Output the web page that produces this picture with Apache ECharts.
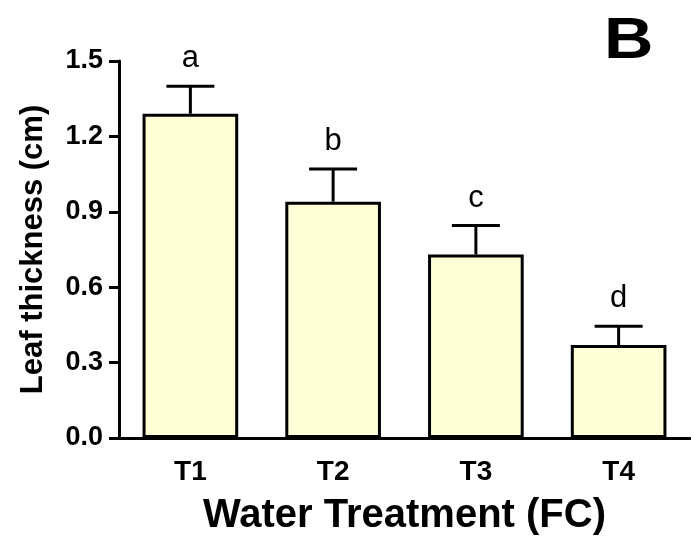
<!DOCTYPE html>
<html>
<head>
<meta charset="utf-8">
<script src="https://cdn.jsdelivr.net/npm/echarts@6/dist/echarts.min.js"></script>
<style>
html, body { margin: 0; padding: 0; background: #fff; }
#main { width: 691px; height: 545px; }
</style>
</head>
<body>
<div id="main"></div>
<script>
// data
var treatments = ['T1', 'T2', 'T3', 'T4'];
var thickness = [1.29, 0.94, 0.73, 0.37];
var errUpper = [0.11, 0.13, 0.115, 0.075];
var letters = ['a', 'b', 'c', 'd'];
var yTicks = [0, 0.3, 0.6, 0.9, 1.2, 1.5];

var chart = echarts.init(document.getElementById('main'));
var font = 'Liberation Sans, Arial, sans-serif';

var errData = thickness.map(function (v, i) {
    return [i, v, v + errUpper[i]];
});

var option = {
    backgroundColor: '#fff',
    animation: false,
    grid: { left: 119, right: 1, top: 61, bottom: 107 },
    graphic: [{
        type: 'text', left: 604, top: 14, scaleX: 1.2,
        style: { text: 'B', font: 'bold 57px ' + font, fill: '#000' }
    }],
    xAxis: {
        type: 'category',
        data: treatments,
        name: 'Water Treatment (FC)',
        nameLocation: 'middle',
        nameGap: 58,
        nameTextStyle: { fontFamily: font, fontWeight: 'bold', fontSize: 40, color: '#000' },
        axisLine: { lineStyle: { color: '#000', width: 3 } },
        axisTick: { alignWithLabel: true, length: 10, lineStyle: { color: '#000', width: 3 } },
        axisLabel: { fontFamily: font, fontWeight: 'bold', fontSize: 28, color: '#000', margin: 20 }
    },
    yAxis: {
        type: 'value',
        min: yTicks[0],
        max: yTicks[yTicks.length - 1],
        interval: 0.3,
        name: 'Leaf thickness (cm)',
        nameLocation: 'middle',
        nameGap: 70,
        nameTextStyle: { fontFamily: font, fontWeight: 'bold', fontSize: 31, color: '#000' },
        axisLine: { show: true, lineStyle: { color: '#000', width: 3 } },
        axisTick: { show: true, length: 10, lineStyle: { color: '#000', width: 3 } },
        splitLine: { show: false },
        axisLabel: {
            fontFamily: font, fontWeight: 'bold', fontSize: 27, color: '#000', margin: 16,
            formatter: function (v) { return v.toFixed(1); }
        }
    },
    series: [
        {
            type: 'bar',
            data: thickness,
            barWidth: '67%',
            itemStyle: { color: '#FFFFD8', borderColor: '#000', borderWidth: 3 }
        },
        {
            type: 'custom',
            data: errData,
            z: 5,
            renderItem: function (params, api) {
                var base = api.coord([api.value(0), api.value(1)]);
                var top = api.coord([api.value(0), api.value(2)]);
                var half = 24;
                return {
                    type: 'group',
                    children: [
                        { type: 'line', shape: { x1: top[0], y1: base[1], x2: top[0], y2: top[1] },
                          style: { stroke: '#000', lineWidth: 3 } },
                        { type: 'line', shape: { x1: top[0] - half, y1: top[1], x2: top[0] + half, y2: top[1] },
                          style: { stroke: '#000', lineWidth: 3 } },
                        { type: 'text', x: top[0], y: top[1] - 12,
                          style: { text: letters[params.dataIndex], font: '31px ' + font, fill: '#000',
                                   align: 'center', verticalAlign: 'bottom' } }
                    ]
                };
            }
        }
    ]
};
chart.setOption(option);
</script>
</body>
</html>
